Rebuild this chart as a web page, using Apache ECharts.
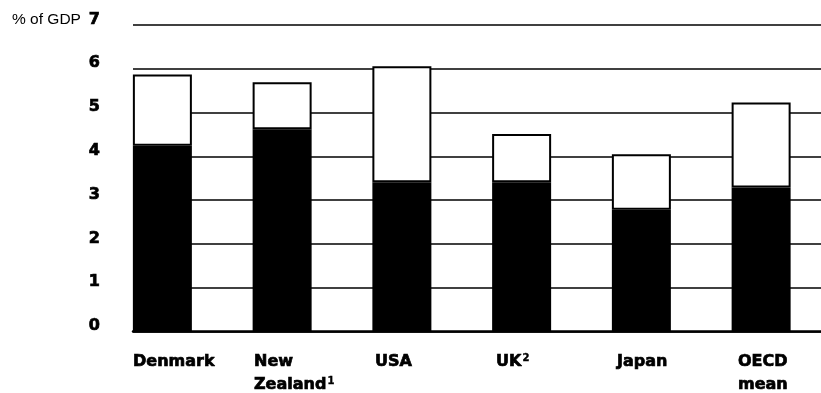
<!DOCTYPE html>
<html>
<head>
<meta charset="utf-8">
<script src="https://cdn.jsdelivr.net/npm/echarts@6/dist/echarts.min.js"></script>
<style>
  html, body { margin: 0; padding: 0; background: #fff; }
  #chart { width: 821px; height: 393px; }
</style>
</head>
<body>
<div id="chart"></div>
<script>
// Categories and footnote markers
const countries = ['Denmark', 'New\nZealand', 'USA', 'UK', 'Japan', 'OECD\nmean'];
const footnotes = ['', '1', '', '2', '', ''];

// Lower (black) segment and upper (white) segment, % of GDP
const lowerShare = [4.24, 4.62, 3.41, 3.41, 2.78, 3.29];
const upperShare = [1.63, 1.07, 2.65, 1.10, 1.27, 1.94];

// Value axis ticks
const yTicks = [0, 1, 2, 3, 4, 5, 6, 7];

const chart = echarts.init(document.getElementById('chart'), null, { renderer: 'canvas' });

const TOP = 25, HEIGHT = 306.5;
const labelFont = 'DejaVu Sans';
// heavy display weight: bold face plus a thin outline of the same colour
const heavy = { fontFamily: labelFont, fontWeight: 'bold', color: '#000', textBorderColor: '#000', textBorderWidth: 0.7 };

const option = {
  animation: false,
  backgroundColor: '#fff',
  title: {
    text: '% of GDP',
    left: 12,
    top: 12,
    padding: 0,
    textStyle: { fontFamily: 'Liberation Sans', fontWeight: 'normal', fontSize: 15.5, color: '#000' }
  },
  grid: [
    // value axis, gridlines, baseline
    { left: 133, right: 0, top: TOP, height: HEIGHT },
    // bars
    { left: 102.5, width: 726, top: TOP, height: HEIGHT },
    // category labels, left-aligned under each bar
    { left: 72.5, width: 726, top: TOP, height: HEIGHT }
  ],
  xAxis: [
    {
      gridIndex: 0, type: 'value', min: 0, max: 1,
      axisLine: { show: true, lineStyle: { color: '#000', width: 2.5 } },
      axisTick: { show: false }, axisLabel: { show: false }, splitLine: { show: false }
    },
    { gridIndex: 1, type: 'category', data: countries, show: false },
    {
      gridIndex: 2, type: 'category', data: countries,
      axisLine: { show: false }, axisTick: { show: false }, splitLine: { show: false },
      axisLabel: {
        interval: 0,
        align: 'left',
        verticalAlign: 'top',
        margin: 21,
        formatter: function (value, index) {
          const lines = value.split('\n').map(function (l) { return '{b|' + l + '}'; });
          let text = lines.join('\n');
          if (footnotes[index]) text += '{s|' + footnotes[index] + '}';
          return text;
        },
        rich: {
          b: Object.assign({}, heavy, { fontSize: 16, lineHeight: 23 }),
          s: Object.assign({}, heavy, { fontSize: 10, lineHeight: 10, textBorderWidth: 0.4, verticalAlign: 'top', padding: [3, 0, 0, 1] })
        }
      }
    }
  ],
  yAxis: [
    {
      gridIndex: 0, type: 'value',
      min: yTicks[0], max: yTicks[yTicks.length - 1], interval: 1,
      axisLine: { show: false }, axisTick: { show: false },
      axisLabel: Object.assign({}, heavy, {
        margin: 33,
        verticalAlign: 'bottom',
        lineHeight: 11,
        fontSize: 16
      }),
      splitLine: { show: true, lineStyle: { color: '#000', width: 1.5 } }
    },
    { gridIndex: 1, type: 'value', min: yTicks[0], max: yTicks[yTicks.length - 1], show: false },
    { gridIndex: 2, type: 'value', min: yTicks[0], max: yTicks[yTicks.length - 1], show: false }
  ],
  series: [
    {
      type: 'bar', xAxisIndex: 1, yAxisIndex: 1, stack: 'total',
      barWidth: 59,
      data: lowerShare,
      itemStyle: { color: '#000' }
    },
    {
      type: 'bar', xAxisIndex: 1, yAxisIndex: 1, stack: 'total',
      barWidth: 59,
      data: upperShare,
      itemStyle: { color: '#fff', borderColor: '#000', borderWidth: 2 }
    }
  ]
};

chart.setOption(option);
</script>
</body>
</html>
